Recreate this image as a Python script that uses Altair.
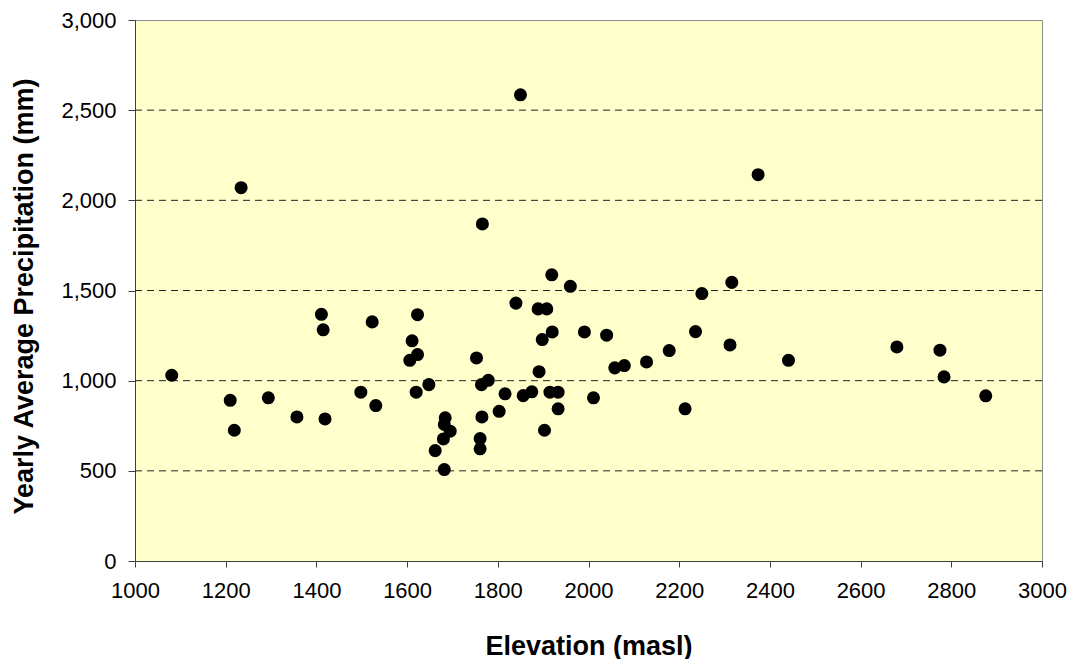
import altair as alt
import pandas as pd

elevation = [1081, 1210, 1219, 1234, 1294, 1357, 1411, 1415, 1419, 1498,
             1523, 1531, 1606, 1611, 1620, 1623, 1623, 1648, 1662, 1680,
             1682, 1684, 1682, 1695, 1753, 1761, 1761, 1764, 1765, 1766,
             1779, 1803, 1816, 1840, 1850, 1856, 1875, 1889, 1891, 1898,
             1903, 1908, 1915, 1919, 1920, 1933, 1933, 1960, 1991, 2011,
             2040, 2058, 2079, 2128, 2178, 2213, 2236, 2250, 2312, 2316,
             2374, 2441, 2680, 2775, 2784, 2876]
precip = [1030, 891, 725, 2070, 905, 799, 1368, 1282, 788, 936,
          1326, 862, 1113, 1221, 936, 1366, 1145, 978, 612, 677,
          757, 794, 507, 720, 1126, 679, 622, 978, 799, 1869,
          1002, 830, 927, 1430, 2585, 917, 938, 1398, 1050, 1228,
          725, 1398, 936, 1587, 1270, 936, 844, 1523, 1270, 905,
          1252, 1071, 1084, 1104, 1167, 844, 1272, 1483, 1198, 1545,
          2142, 1113, 1187, 1169, 1021, 916]
grid_values = [500, 1000, 1500, 2000, 2500]

df = pd.DataFrame({"elev": elevation, "precip": precip})
gdf = pd.DataFrame({"g": grid_values})

FONT = "Liberation Sans"

x_scale = alt.Scale(domain=[1000, 3000], nice=False, zero=False)
y_scale = alt.Scale(domain=[0, 3000], nice=False)

y_axis = alt.Axis(title="Yearly Average Precipitation (mm)",
                  values=list(range(0, 3001, 500)), format=",d", grid=False,
                  tickSize=7, tickColor="#404040", domainColor="#404040",
                  labelFontSize=22, labelColor="black", labelFont=FONT,
                  labelPadding=12, labelFlush=False, titleFont=FONT, titleFontSize=27,
                  titleFontWeight="bold", titleColor="black",
                  titleX=-111, titleY=276, titleBaseline="middle",
                  titleAngle=270)

points = alt.Chart(df).mark_circle(size=170, color="black", opacity=1).encode(
    x=alt.X("elev:Q", scale=x_scale,
            axis=alt.Axis(title="Elevation (masl)", values=list(range(1000, 3001, 200)),
                          format="d", grid=False, tickSize=6, tickColor="#404040",
                          domainColor="#404040", labelFontSize=22, labelColor="black",
                          labelFont=FONT, labelPadding=13, labelFlush=False,
                          titleFont=FONT, titleFontSize=27,
                          titleFontWeight="bold", titleColor="black",
                          titleY=85, titleBaseline="middle")),
    y=alt.Y("precip:Q", scale=y_scale, axis=y_axis),
)

grid = alt.Chart(gdf).mark_rule(color="#222222", strokeWidth=1, strokeDash=[7, 5]).encode(
    y=alt.Y("g:Q", scale=y_scale, axis=y_axis)
)

chart = alt.layer(grid, points).properties(
    width=907, height=541,
    autosize=alt.AutoSizeParams(type="none"),
    padding={"left": 135, "top": 20, "right": 31, "bottom": 98},
    background="white",
).configure_view(fill="#FFFFCC", stroke="#8c8c8c", strokeWidth=1)

chart.save("out.html", embed_options={"renderer": "svg", "actions": False})
